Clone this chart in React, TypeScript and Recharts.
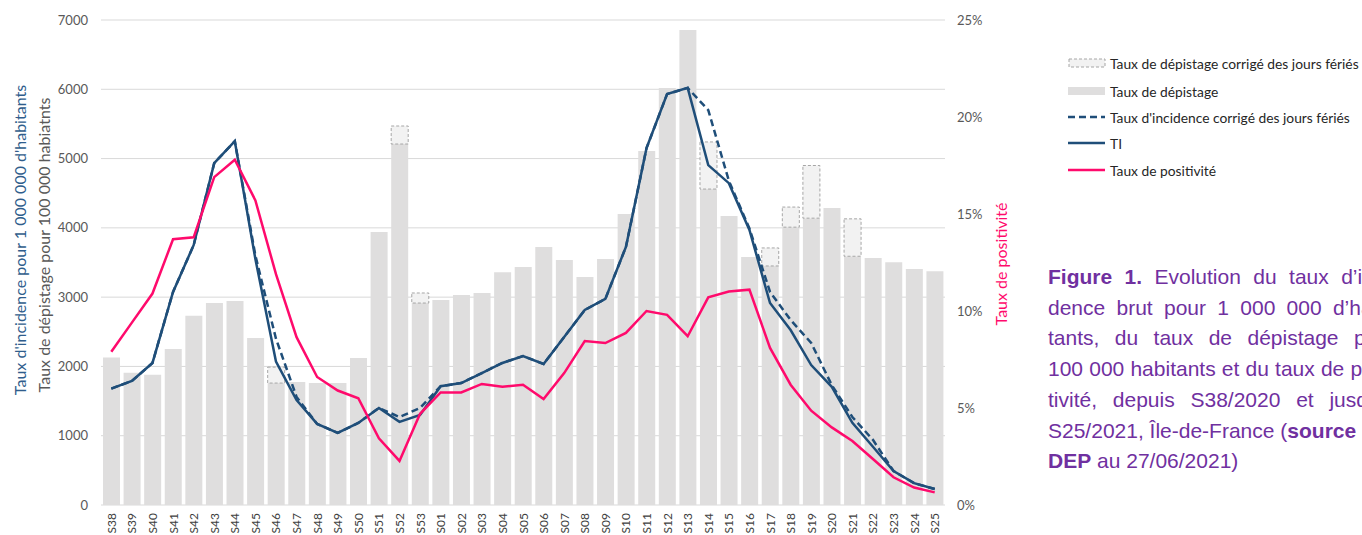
import React from 'react';
import { ComposedChart, Bar, Line, XAxis, YAxis, CartesianGrid } from 'recharts';

const weeks = ['S38','S39','S40','S41','S42','S43','S44','S45','S46','S47','S48','S49','S50','S51','S52','S53',
  'S01','S02','S03','S04','S05','S06','S07','S08','S09','S10','S11','S12','S13','S14','S15','S16','S17','S18','S19','S20','S21','S22','S23','S24','S25'];

const depistage = [2130,1910,1880,2250,2730,2915,2945,2410,1760,1775,1760,1760,2120,3940,5210,2915,
  2960,3030,3060,3360,3435,3725,3535,3290,3550,4200,5110,6020,6855,4560,4170,3580,3450,4010,4140,4285,3590,3565,3505,3405,3375];

const depistageCorrige = [null,null,null,null,null,null,null,null,1990,null,null,null,null,null,5470,3060,
  null,null,null,null,null,null,null,null,null,null,null,null,null,5240,null,null,3710,4300,4900,null,4130,null,null,null,null];

const ti = [1680,1790,2050,3075,3750,4935,5250,3550,2070,1515,1170,1040,1185,1400,1200,1300,
  1715,1760,1905,2050,2150,2035,2425,2815,2975,3725,5150,5930,6020,4905,4645,3970,2915,2525,2020,1705,1185,840,490,315,230];

const tiCorrige = [1680,1790,2050,3075,3750,4935,5250,3600,2400,1560,1170,1040,1185,1400,1270,1400,
  1715,1760,1905,2050,2150,2035,2425,2815,2975,3725,5150,5930,6020,5700,4680,3990,3075,2670,2340,1730,1270,940,490,315,230];

const positivite = [0.079,0.094,0.109,0.137,0.138,0.169,0.178,0.157,0.119,0.0865,0.066,0.059,0.055,0.0344,0.0227,0.047,
  0.058,0.058,0.0624,0.061,0.062,0.0546,0.068,0.0845,0.0835,0.0887,0.100,0.098,0.087,0.107,0.110,0.111,0.081,0.062,0.0486,0.040,0.033,0.0237,0.0143,0.009,0.0065];

const leftTicks = [0,1000,2000,3000,4000,5000,6000,7000];
const rightTicks = [0,0.05,0.10,0.15,0.20,0.25];

const data = weeks.map((w, i) => ({
  week: w,
  dep: depistage[i],
  depCorr: depistageCorrige[i] != null ? (depistageCorrige[i] as number) - depistage[i] : null,
  ti: ti[i],
  tiCorr: tiCorrige[i],
  pos: positivite[i],
}));

const BLUE = '#1f4e79';
const PINK = '#ff0a6c';
const FONT = 'Lato, "Open Sans", sans-serif';

const XTick = (props: any) => {
  const { x, y, payload } = props;
  return (
    <text x={x} y={y} transform={`rotate(-90, ${x}, ${y})`} textAnchor="end" dominantBaseline="central"
      fontSize={12} fill="#404040" fontFamily={FONT}>{payload.value}</text>
  );
};

const legendItems = [
  { label: 'Taux de dépistage corrigé des jours fériés', kind: 'dashbox', y: 63 },
  { label: 'Taux de dépistage', kind: 'box', y: 91 },
  { label: 'Taux d\'incidence corrigé des jours fériés', kind: 'dashline', y: 117 },
  { label: 'TI', kind: 'line', y: 143 },
  { label: 'Taux de positivité', kind: 'pinkline', y: 170 },
];

const Symbol = ({ kind }: { kind: string }) => (
  <svg width={38} height={12} style={{ display: 'block' }}>
    {kind === 'dashbox' && <rect x={1} y={2} width={36} height={8} fill="#f2f2f2" stroke="#a6a6a6" strokeDasharray="3 2" />}
    {kind === 'box' && <rect x={0} y={2} width={37} height={8} fill="#dfdede" />}
    {kind === 'dashline' && <line x1={0} y1={6} x2={37} y2={6} stroke={BLUE} strokeWidth={2.5} strokeDasharray="7 4" />}
    {kind === 'line' && <line x1={0} y1={6} x2={37} y2={6} stroke={BLUE} strokeWidth={2.5} />}
    {kind === 'pinkline' && <line x1={0} y1={6} x2={37} y2={6} stroke={PINK} strokeWidth={2.5} />}
  </svg>
);

const J: React.CSSProperties = { textAlign: 'justify', textAlignLast: 'justify', whiteSpace: 'nowrap' };

export default function App() {
  return (
    <div style={{ position: 'absolute', left: 0, top: 0, width: 1362, height: 535, overflow: 'hidden', background: '#fff', fontFamily: FONT }}>
      <div style={{ position: 'absolute', left: 0, top: 0 }}>
        <ComposedChart width={1362} height={535} data={data} barCategoryGap={2}
          margin={{ top: 20, right: 357, bottom: 0, left: 0 }}>
          <CartesianGrid yAxisId="left" vertical={false} stroke="#d9d9d9" />
          <XAxis dataKey="week" interval={0} tickLine={false} axisLine={false} height={30} tick={<XTick />} />
          <YAxis yAxisId="left" domain={[0, 7000]} ticks={leftTicks} width={101} tickLine={false} axisLine={false}
            tickMargin={7} tick={{ fontSize: 13, fill: '#595959', fontFamily: FONT }} />
          <YAxis yAxisId="right" orientation="right" domain={[0, 0.25]} ticks={rightTicks} width={60}
            tickLine={false} axisLine={false} tickMargin={6}
            tickFormatter={(v: number) => `${Math.round(v * 100)}%`}
            tick={{ fontSize: 13, fill: '#595959', fontFamily: FONT, textAnchor: 'start' }} />
          <Bar yAxisId="left" dataKey="dep" stackId="d" fill="#dfdede" isAnimationActive={false} />
          <Bar yAxisId="left" dataKey="depCorr" stackId="d" fill="#f2f2f2" stroke="#a6a6a6" strokeDasharray="3 2"
            strokeWidth={1} isAnimationActive={false} />
          <Line yAxisId="left" dataKey="tiCorr" stroke={BLUE} strokeWidth={2.5} strokeDasharray="7 4" dot={false}
            isAnimationActive={false} />
          <Line yAxisId="left" dataKey="ti" stroke={BLUE} strokeWidth={2.5} dot={false} isAnimationActive={false} />
          <Line yAxisId="right" dataKey="pos" stroke={PINK} strokeWidth={2.5} dot={false} isAnimationActive={false} />
        </ComposedChart>
      </div>

      {/* Left axis titles */}
      <div style={{ position: 'absolute', left: 19, top: 240, width: 0, height: 0 }}>
        <div style={{ position: 'absolute', transform: 'translate(-50%,-50%) rotate(-90deg)', whiteSpace: 'nowrap',
          fontSize: 16, color: '#2f5d8c', fontFamily: FONT }}>Taux d&apos;incidence pour 1 000 000 d&apos;habitants</div>
      </div>
      <div style={{ position: 'absolute', left: 43, top: 245, width: 0, height: 0 }}>
        <div style={{ position: 'absolute', transform: 'translate(-50%,-50%) rotate(-90deg)', whiteSpace: 'nowrap',
          fontSize: 16, color: '#595959', fontFamily: FONT }}>Taux de dépistage pour 100 000 habiatnts</div>
      </div>
      {/* Right axis title */}
      <div style={{ position: 'absolute', left: 1000, top: 264, width: 0, height: 0 }}>
        <div style={{ position: 'absolute', transform: 'translate(-50%,-50%) rotate(-90deg)', whiteSpace: 'nowrap',
          fontSize: 16, color: PINK, fontFamily: FONT }}>Taux de positivité</div>
      </div>

      {/* Legend */}
      {legendItems.map((it) => (
        <div key={it.label} style={{ position: 'absolute', left: 1068, top: it.y - 10, height: 20, display: 'flex', alignItems: 'center', whiteSpace: 'nowrap' }}>
          <Symbol kind={it.kind} />
          <span style={{ marginLeft: 4, fontSize: 13.8, color: '#262626', fontFamily: FONT }}>{it.label}</span>
        </div>
      ))}

      {/* Caption */}
      <div style={{ position: 'absolute', left: 1048, top: 262, width: 348, fontFamily: '"Liberation Sans", Arial, sans-serif',
        fontSize: 21, lineHeight: '30.7px', color: '#7030a0' }}>
        <div style={J}><b>Figure 1.</b> Evolution du taux d’inci-</div>
        <div style={J}>dence brut pour 1 000 000 d’habi-</div>
        <div style={J}>tants, du taux de dépistage pour</div>
        <div style={J}>100 000 habitants et du taux de posi-</div>
        <div style={J}>tivité, depuis S38/2020 et jusqu’à</div>
        <div style={{ whiteSpace: 'nowrap' }}>S25/2021, Île-de-France (<b>source : SI-</b></div>
        <div style={{ whiteSpace: 'nowrap' }}><b>DEP</b> au 27/06/2021)</div>
      </div>
    </div>
  );
}
